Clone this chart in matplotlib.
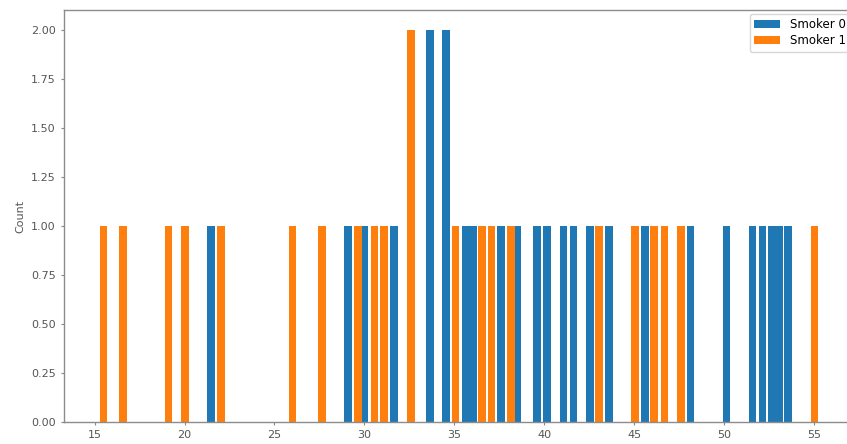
import matplotlib
matplotlib.use("Agg")
import matplotlib.pyplot as plt

# bar centres (x values) and counts
blue_x = [21.47, 29.08, 30.00, 31.64, 33.64, 34.53, 35.64, 36.06, 37.61, 38.53,
          39.61, 40.17, 41.08, 41.64, 42.56, 43.61, 45.61, 48.14, 50.14, 51.58,
          52.14, 52.69, 53.06, 53.58]
blue_h = [1, 1, 1, 1, 2, 2, 1, 1, 1, 1,
          1, 1, 1, 1, 1, 1, 1, 1, 1, 1,
          1, 1, 1, 1]
orange_x = [15.50, 16.58, 19.11, 20.03, 22.03, 26.00, 27.64, 29.64, 30.56, 31.08,
            32.58, 35.08, 36.53, 37.08, 38.17, 43.06, 45.06, 46.11, 46.69, 47.61,
            55.03]
orange_h = [1, 1, 1, 1, 1, 1, 1, 1, 1, 1,
            2, 1, 1, 1, 1, 1, 1, 1, 1, 1,
            1]
labels = ["Smoker 0", "Smoker 1"]
xticks = [15, 20, 25, 30, 35, 40, 45, 50, 55]
yticks = [0.0, 0.25, 0.5, 0.75, 1.0, 1.25, 1.5, 1.75, 2.0]

W, H = 847, 444
fig = plt.figure(figsize=(W / 100, H / 100), dpi=100)
ax = fig.add_axes([64 / W, 22 / H, (854 - 64) / W, (422 - 10) / H])

bw = 0.42
ax.bar(blue_x, blue_h, width=bw, color="#1f77b4", label=labels[0])
ax.bar(orange_x, orange_h, width=bw, color="#ff7f0e", label=labels[1])

ax.set_xticks(xticks)
ax.set_yticks(yticks)
ax.set_yticklabels([f"{v:.2f}" for v in yticks])
ax.set_ylim(0, 2.1)
ax.margins(x=0.05)

txt = "#555555"
ax.tick_params(labelsize=8, length=2.5, width=0.8, colors="#888888", labelcolor=txt)
ax.set_ylabel("Count", fontsize=8, color=txt)
for s in ax.spines.values():
    s.set_color("#8c8c8c")
    s.set_linewidth(1.0)
ax.spines["right"].set_visible(False)

ax.legend(loc="upper right", fontsize=8.5, labelspacing=0.25, borderaxespad=0.3,
          handlelength=2.2)

fig.savefig("out.png", dpi=100)
